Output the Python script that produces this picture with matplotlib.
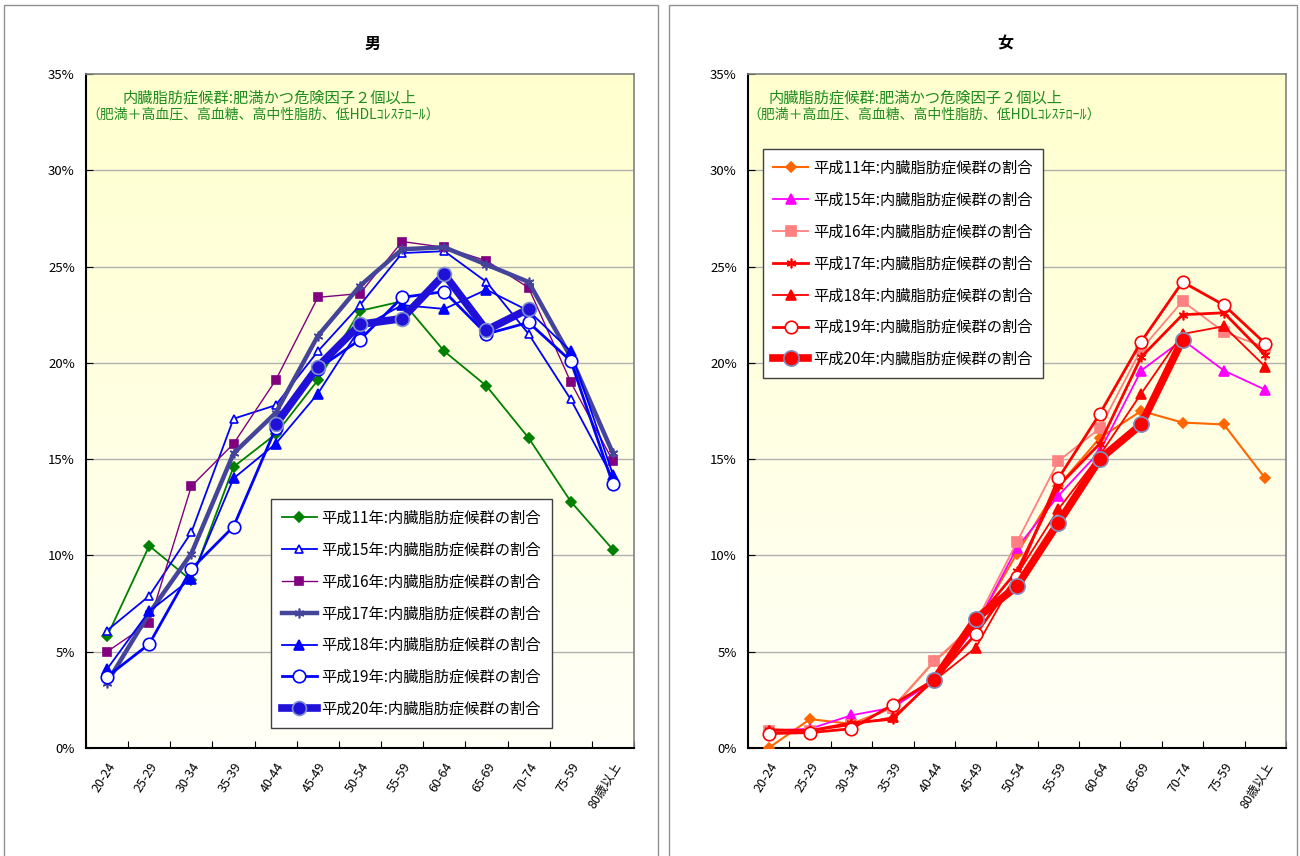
import numpy as np
import matplotlib
matplotlib.use('Agg')
import matplotlib.pyplot as plt
from matplotlib.patches import Rectangle
from matplotlib.ticker import FixedLocator, FuncFormatter

plt.rcParams['font.family'] = ['Noto Sans CJK JP', 'DejaVu Sans']

nan = np.nan

# 年齢区分（元の図のまま "75-59"）
ages = ['20-24', '25-29', '30-34', '35-39', '40-44', '45-49', '50-54',
        '55-59', '60-64', '65-69', '70-74', '75-59', '80歳以上']

series_names = ['平成11年', '平成15年', '平成16年', '平成17年', '平成18年', '平成19年', '平成20年']

# 男 (%)
h11_m = [5.8, 10.5, 8.7, 14.6, 16.3, 19.1, 22.7, 23.2, 20.6, 18.8, 16.1, 12.8, 10.3]
h15_m = [6.1, 7.9, 11.2, 17.1, 17.8, 20.6, 23.0, 25.7, 25.8, 24.2, 21.5, 18.1, 14.0]
h16_m = [5.0, 6.5, 13.6, 15.8, 19.1, 23.4, 23.6, 26.3, 26.0, 25.3, 23.9, 19.0, 14.9]
h17_m = [3.4, 7.0, 10.1, 15.3, 17.4, 21.4, 24.0, 25.9, 26.0, 25.1, 24.2, 20.3, 15.3]
h18_m = [4.1, 7.1, 8.8, 14.0, 15.8, 18.4, 21.8, 23.0, 22.8, 23.8, 22.7, 20.6, 14.2]
h19_m = [3.7, 5.4, 9.3, 11.5, 16.6, 19.7, 21.2, 23.4, 23.7, 21.5, 22.1, 20.1, 13.7]
h20_m = [nan, nan, nan, nan, 16.8, 19.8, 22.0, 22.3, 24.6, 21.7, 22.8, nan, nan]

# 女 (%)
h11_f = [0.0, 1.5, 1.25, 2.1, 4.5, 6.4, 10.1, 13.6, 16.1, 17.5, 16.9, 16.8, 14.0]
h15_f = [0.9, 1.0, 1.7, 2.1, 3.5, 6.3, 10.4, 13.1, 15.4, 19.6, 21.2, 19.6, 18.6]
h16_f = [0.9, 0.9, 1.2, 2.1, 4.5, 6.5, 10.7, 14.9, 16.6, 20.7, 23.2, 21.6, 20.8]
h17_f = [0.95, 0.9, 1.3, 1.5, 3.6, 6.6, 9.2, 13.6, 15.8, 20.3, 22.5, 22.6, 20.4]
h18_f = [0.9, 0.9, 1.2, 1.6, 3.5, 5.2, 9.0, 12.4, 15.2, 18.4, 21.5, 21.9, 19.8]
h19_f = [0.75, 0.8, 1.0, 2.25, 3.55, 5.9, 8.9, 14.0, 17.35, 21.1, 24.2, 23.0, 21.0]
h20_f = [nan, nan, nan, nan, 3.55, 6.7, 8.4, 11.7, 15.0, 16.8, 21.2, nan, nan]

note1 = '内臓脂肪症候群:肥満かつ危険因子２個以上'
note2 = '（肥満＋高血圧、高血糖、高中性脂肪、低HDLｺﾚｽﾃﾛｰﾙ）'

# 線のスタイル: (color, marker, markersize, linewidth, markerfacecolor, markeredgecolor)
styles_m = [
    ('#008000', 'D', 5, 1.3, '#008000', '#008000'),
    ('#0000FF', '^', 6, 1.3, 'white', '#0000FF'),
    ('#800080', 's', 6, 1.0, '#800080', '#800080'),
    ('#44449A', (6, 2, 0), 7, 3.2, '#44449A', '#44449A'),
    ('#0000FF', '^', 6.5, 1.3, '#0000FF', '#0000FF'),
    ('#0000FF', 'o', 9, 2.0, 'white', '#0000FF'),
    ('#2010D8', 'o', 10, 5.5, '#2010D8', '#7F8FD0'),
]
styles_f = [
    ('#FF6600', 'D', 5, 1.5, '#FF6600', '#FF6600'),
    ('#FF00FF', '^', 7, 1.3, '#FF00FF', '#FF00FF'),
    ('#FF8080', 's', 6.5, 1.3, '#FF8080', '#FF8080'),
    ('#FF0000', (6, 2, 0), 7, 2.0, '#FF0000', '#FF0000'),
    ('#FF0000', '^', 7, 1.3, '#FF0000', '#FF0000'),
    ('#FF0000', 'o', 9, 2.0, 'white', '#FF0000'),
    ('#FF0000', 'o', 11, 5.5, '#FF0000', '#8090C0'),
]


def draw_panel(ax, data, styles, legend_pos):
    x = np.arange(len(ages))
    # 背景のグラデーション
    grad = np.linspace(0, 1, 256).reshape(-1, 1)
    top = np.array([1.0, 1.0, 0.81])
    bottom = np.array([1.0, 1.0, 0.97])
    img = bottom + (top - bottom) * grad
    ax.imshow(img.reshape(256, 1, 3), extent=(-0.5, 12.5, 0, 35),
              aspect='auto', origin='lower', zorder=0)
    for yv in range(5, 35, 5):
        ax.axhline(yv, color='#B0B0B0', lw=1.0, zorder=1)

    for name, vals, st in zip(series_names, data, styles):
        color, marker, ms, lw, mfc, mec = st
        ax.plot(x, vals, color=color, marker=marker, markersize=ms, lw=lw,
                markerfacecolor=mfc, markeredgecolor=mec, markeredgewidth=1.2,
                label=name + ':内臓脂肪症候群の割合', zorder=3)

    ax.set_xlim(-0.5, 12.5)
    ax.set_ylim(0, 35)
    ax.xaxis.set_major_locator(FixedLocator(np.arange(-0.5, 13, 1)))
    ax.xaxis.set_minor_locator(FixedLocator(x))
    ax.set_xticklabels([], minor=False)
    ax.set_xticklabels(ages, minor=True, rotation=58, ha='right', va='top',
                       rotation_mode='anchor', fontsize=9)
    ax.tick_params(axis='x', which='major', direction='in', length=5)
    ax.tick_params(axis='x', which='minor', length=0, pad=9)
    ax.set_yticks(range(0, 36, 5))
    ax.yaxis.set_major_formatter(FuncFormatter(lambda v, p: '%d%%' % v))
    ax.tick_params(axis='y', direction='in', length=5, labelsize=9.5, pad=8)

    for s in ['left', 'bottom']:
        ax.spines[s].set_color('black')
        ax.spines[s].set_linewidth(1.5)
    for s in ['top', 'right']:
        ax.spines[s].set_color('#808080')
        ax.spines[s].set_linewidth(1.2)

    leg = ax.legend(loc='lower left', bbox_to_anchor=legend_pos, fontsize=11,
                    labelspacing=0.97, handlelength=2.3, handletextpad=0.3,
                    borderpad=0.7, fancybox=False, edgecolor='#404040',
                    framealpha=1, shadow=False)
    leg.get_frame().set_linewidth(1.0)
    leg.set_zorder(5)


fig = plt.figure(figsize=(13, 8.56), dpi=100)

# 外枠
fig.patches.append(Rectangle((4 / 1300, -0.1), 654 / 1300, 1.094, transform=fig.transFigure,
                             fill=False, edgecolor='#909090', lw=1.0))
fig.patches.append(Rectangle((669 / 1300, -0.1), 628 / 1300, 1.094, transform=fig.transFigure,
                             fill=False, edgecolor='#909090', lw=1.0))

ax1 = fig.add_axes([86 / 1300, 108 / 856, 548 / 1300, 674 / 856])
ax2 = fig.add_axes([748 / 1300, 108 / 856, 538 / 1300, 674 / 856])

draw_panel(ax1, [h11_m, h15_m, h16_m, h17_m, h18_m, h19_m, h20_m], styles_m, (0.324, 0.018))
draw_panel(ax2, [h11_f, h15_f, h16_f, h17_f, h18_f, h19_f, h20_f], styles_f, (0.013, 0.537))

fig.text(373 / 1300, 1 - 44 / 856, '男', ha='center', va='center', fontsize=11.5, weight='bold')
fig.text(1005 / 1300, 1 - 44 / 856, '女', ha='center', va='center', fontsize=11.5, weight='bold')

for cx1, cx2 in [(270, 263), (915, 924)]:
    fig.text(cx1 / 1300, 1 - 98 / 856, note1, ha='center', va='center',
             fontsize=11, color='#1E8C1E')
    fig.text(cx2 / 1300, 1 - 115 / 856, note2, ha='center', va='center',
             fontsize=10, color='#1E8C1E')

fig.savefig('out.png', dpi=100)
